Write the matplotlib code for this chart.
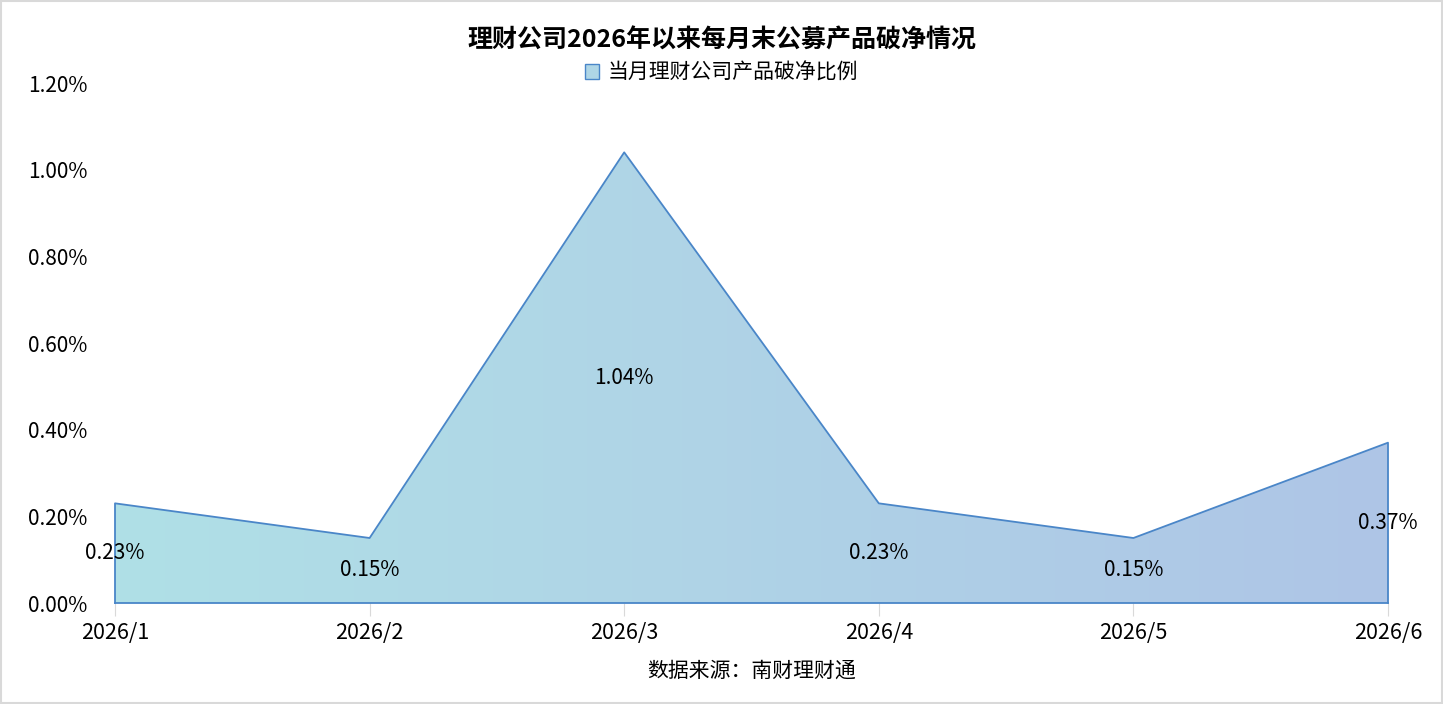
import matplotlib
matplotlib.use("Agg")
import matplotlib.pyplot as plt
import numpy as np
from matplotlib.patches import Patch, Rectangle
from matplotlib.colors import LinearSegmentedColormap
from matplotlib.ticker import FuncFormatter

plt.rcParams["font.family"] = ["Noto Sans CJK SC", "DejaVu Sans"]

# --------------------------------
# Data
# --------------------------------

months = ["2026/1", "2026/2", "2026/3", "2026/4", "2026/5", "2026/6"]
ratio = [0.23, 0.15, 1.04, 0.23, 0.15, 0.37]  # percent

title = "理财公司2026年以来每月末公募产品破净情况"
series_name = "当月理财公司产品破净比例"
source = "数据来源：南财理财通"

line_color = "#4A86C8"
grad_left = "#B0E0E6"
grad_right = "#AEC5E6"

# --------------------------------
# Figure
# --------------------------------

fig = plt.figure(figsize=(14.43, 7.04), dpi=100)
ax = fig.add_axes([115 / 1443, 1 - 603 / 704, (1388 - 115) / 1443, (603 - 83) / 704])

x = np.arange(len(months))
y = np.array(ratio)

ax.set_xlim(0, len(months) - 1)
ax.set_ylim(0, 1.2)

# gradient fill clipped to the area
poly = ax.fill_between(x, 0, y, facecolor="none", edgecolor="none")
cmap = LinearSegmentedColormap.from_list("g", [grad_left, grad_right])
grad = np.linspace(0, 1, 256).reshape(1, -1)
im = ax.imshow(
    grad,
    cmap=cmap,
    aspect="auto",
    extent=(0, len(months) - 1, 0, 1.2),
    origin="lower",
    zorder=1,
)
im.set_clip_path(poly.get_paths()[0], transform=ax.transData)

# outline
ax.plot(
    np.concatenate([[x[0]], x, [x[-1]]]),
    np.concatenate([[0], y, [0]]),
    color=line_color,
    linewidth=1.3,
    zorder=3,
    clip_on=False,
)
ax.plot([x[0], x[-1]], [0, 0], color=line_color, linewidth=1.3, zorder=3, clip_on=False)

# data labels at middle of area
for xi, yi in zip(x, y):
    ax.text(xi, yi / 2, f"{yi:.2f}%", ha="center", va="center", fontsize=15, zorder=4)

# --------------------------------
# Axes styling
# --------------------------------

for s in ax.spines.values():
    s.set_visible(False)

ax.set_xticks(x)
ax.set_xticklabels(months, fontsize=15.5)
ax.tick_params(axis="x", length=9, color="#D9D9D9", pad=5)

ax.set_yticks(np.arange(0, 1.21, 0.2))
ax.yaxis.set_major_formatter(FuncFormatter(lambda v, p: f"{v:.2f}%"))
ax.tick_params(axis="y", length=0, pad=20, labelsize=15)

# --------------------------------
# Title, legend, source
# --------------------------------

fig.text(0.5, 1 - 40 / 704, title, ha="center", va="center", fontsize=18, fontweight="bold")

handle = Patch(facecolor="#AFD6E6", edgecolor=line_color, linewidth=1.0)
fig.legend(
    [handle],
    [series_name],
    loc="center",
    bbox_to_anchor=(0.5, 1 - 73 / 704),
    frameon=False,
    fontsize=15,
    handlelength=0.7,
    handleheight=0.7,
    handletextpad=0.4,
)

fig.text(752 / 1443, 1 - 671 / 704, source, ha="center", va="center", fontsize=15)

fig.add_artist(
    Rectangle((0.0005, 0.001), 0.999, 0.998, transform=fig.transFigure,
              fill=False, edgecolor="#D9D9D9", linewidth=1.5)
)

fig.savefig("out.png", dpi=100)
